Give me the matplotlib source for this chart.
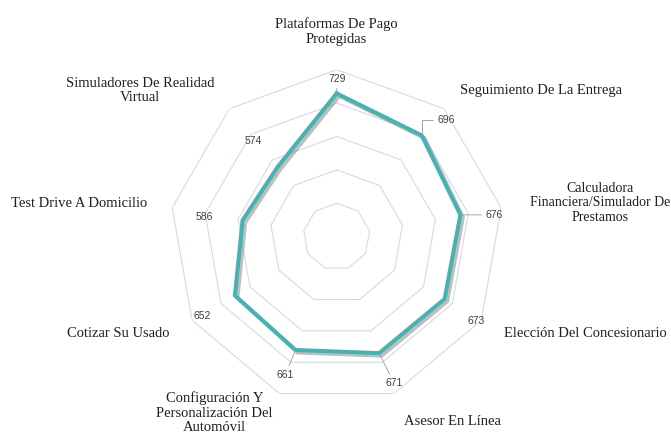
#!/usr/bin/env python3

import numpy as np
from matplotlib import pyplot as plt
from matplotlib import patheffects as pe

# chart data
categories = ['Plataformas De Pago\nProtegidas',
              'Seguimiento De La Entrega',
              'Calculadora\nFinanciera/Simulador De\nPrestamos',
              'Elección Del Concesionario',
              'Asesor En Línea',
              'Configuración Y\nPersonalización Del\nAutomóvil',
              'Cotizar Su Usado',
              'Test Drive A Domicilio',
              'Simuladores De Realidad\nVirtual']
values = [729, 696, 676, 673, 671, 661, 652, 586, 574]
rings = [400, 500, 600, 700, 800]

# label placement (style only)
label_r = [871, 873, 888, 878, 889, 862, 879, 875, 871]
label_va = ['bottom', 'center', 'center', 'center', 'center',
            'center', 'center', 'center', 'center']
label_size = [10.5, 10.5, 10, 10.5, 10.5, 10.5, 10.5, 10.5, 10.5]
value_offsets = [(0, 14), (24, 15), (34, 0), (32, -22), (15, -30),
                 (-10, -25), (-33, -21), (-38, 3), (-25, 26)]
leader = [None, 'angle,angleA=0,angleB=90,rad=0', None, False, None,
          None, False, False, False]

plt.rcParams['font.family'] = ['Liberation Serif', 'DejaVu Serif']

fig = plt.figure(figsize=(6.71, 4.41), dpi=100)
ax = fig.add_axes([169.7 / 671, 37.3 / 441, 334 / 671, 334 / 441],
                  projection='polar')
ax.set_theta_zero_location('N')
ax.set_theta_direction(-1)
ax.set_ylim(300, 800)
ax.grid(False)
ax.spines['polar'].set_visible(False)
ax.set_xticks([])
ax.set_yticks([])

n = len(categories)
angles = np.linspace(0, 2 * np.pi, n, endpoint=False)
closed = np.append(angles, angles[0])

# nonagon grid
for r in rings:
    ax.plot(closed, [r] * (n + 1), color='#D3DAE3', lw=0.8, zorder=1)

# series line with a soft shadow
ax.plot(closed, values + [values[0]], color='#47B2B0', lw=2.9, zorder=3,
        solid_joinstyle='miter',
        path_effects=[pe.SimpleLineShadow(offset=(1.8, -1.8),
                                          shadow_color='#7F7F7F', alpha=0.5),
                      pe.Normal()])

# value labels
for a, v, off, lead in zip(angles, values, value_offsets, leader):
    props = None
    if lead is not False:
        props = dict(arrowstyle='-', color='#A6A6A6', lw=0.7,
                     shrinkA=1, shrinkB=1)
        if lead:
            props['connectionstyle'] = lead
    ax.annotate(str(v), xy=(a, v), xytext=off, textcoords='offset pixels',
                ha='center', va='center', fontsize=7.5, color='#404040',
                family=['Liberation Sans', 'DejaVu Sans'],
                arrowprops=props, zorder=4)

# category labels
for a, lab, r, va, fs in zip(angles, categories, label_r, label_va,
                             label_size):
    s = np.sin(a)
    if abs(s) < 1e-6:
        ha = 'center'
    elif s > 0:
        ha = 'left'
    else:
        ha = 'right'
    ax.text(a, r, lab, ha=ha, va=va, multialignment='center',
            fontsize=fs, color='#1F1F1F', clip_on=False,
            linespacing=1.15)

fig.savefig('out.png', dpi=100, facecolor='white')
